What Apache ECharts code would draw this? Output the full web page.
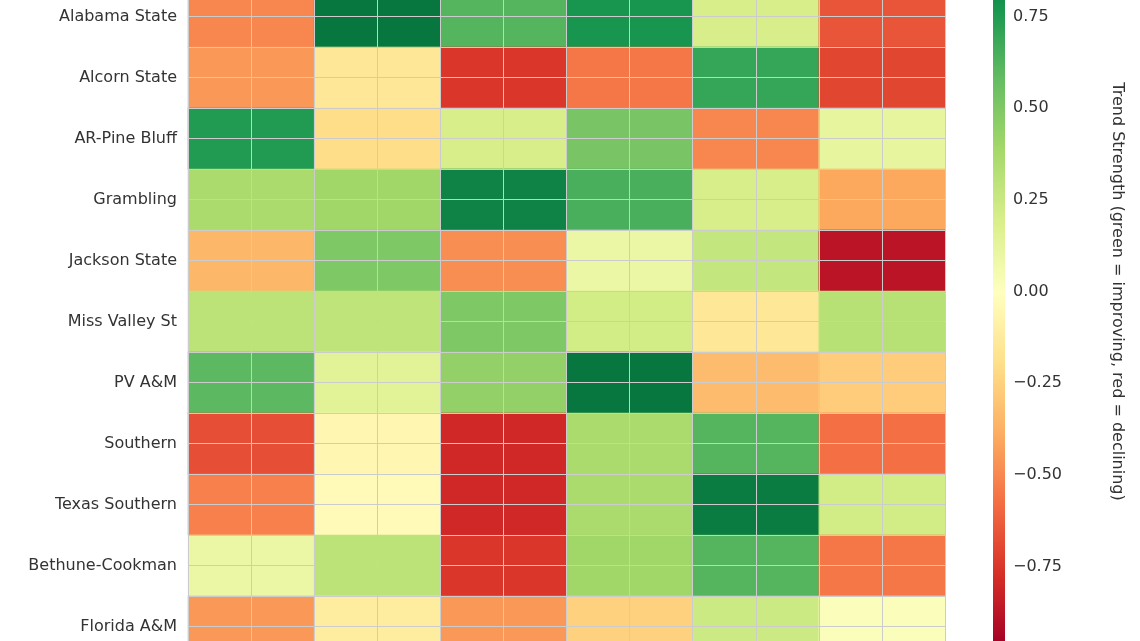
<!DOCTYPE html>
<html><head><meta charset="utf-8">
<script src="https://cdn.jsdelivr.net/npm/echarts@6/dist/echarts.min.js"></script>
<style>html,body{margin:0;padding:0;background:#fff;overflow:hidden;width:1140px;height:641px;position:relative}#c{position:absolute;left:0;top:-75px;width:1140px;height:800px}</style>
</head><body><div id="c"></div>
<script>
const schools = ["Alabama State","Alcorn State","AR-Pine Bluff","Grambling","Jackson State","Miss Valley St","PV A&M","Southern","Texas Southern","Bethune-Cookman","Florida A&M"];
const metrics = ["M1","M2","M3","M4","M5","M6"];
const trend = [
 [-0.5,0.9,0.62,0.78,0.2,-0.65],
 [-0.45,-0.15,-0.75,-0.55,0.7,-0.7],
 [0.75,-0.2,0.2,0.52,-0.5,0.12],
 [0.37,0.4,0.85,0.65,0.2,-0.4],
 [-0.35,0.5,-0.48,0.1,0.27,-0.88],
 [0.3,0.29,0.5,0.22,-0.15,0.32],
 [0.6,0.15,0.44,0.9,-0.33,-0.27],
 [-0.67,-0.05,-0.8,0.37,0.62,-0.57],
 [-0.52,-0.03,-0.8,0.37,0.88,0.22],
 [0.1,0.3,-0.75,0.4,0.62,-0.55],
 [-0.45,-0.12,-0.45,-0.25,0.24,0.02]
];
const cbTicks = [-0.75,-0.5,-0.25,0,0.25,0.5,0.75];
const data = [];
trend.forEach((r,i)=>r.forEach((v,j)=>data.push([j,i,v])));
const rdylgn = ['#a50026','#d73027','#f46d43','#fdae61','#fee08b','#ffffbf','#d9ef8b','#a6d96a','#66bd63','#1a9850','#006837'];
const font = 'DejaVu Sans';
const chart = echarts.init(document.getElementById('c'));
chart.setOption({
  animation:false,
  grid:[{left:188,width:757,top:61,height:671},{left:993,width:12,top:0,height:733}],
  visualMap:[{type:'continuous',min:-0.96,max:0.96,calculable:false,show:true,seriesIndex:0,
    left:993,top:15,itemWidth:12,itemHeight:704,padding:0,text:['',''],showLabel:false,
    inRange:{color:rdylgn},textStyle:{fontSize:0}}],
  xAxis:[
    {type:'category',data:metrics,gridIndex:0,axisLabel:{show:false},axisTick:{show:false},axisLine:{show:false},splitLine:{show:false}},
    {type:'value',gridIndex:0,min:0,max:6,interval:0.5,show:true,axisLabel:{show:false},axisTick:{show:false},axisLine:{show:false},z:10,splitLine:{show:true,lineStyle:{color:'#cccccc',width:1}}},
    {type:'value',gridIndex:1,show:false,min:0,max:1}
  ],
  yAxis:[
    {type:'category',data:schools,inverse:true,gridIndex:0,axisTick:{show:false},axisLine:{show:false},
      axisLabel:{fontFamily:font,fontSize:16,color:'#333',margin:11}},
    {type:'value',gridIndex:0,min:0,max:11,interval:0.5,axisLabel:{show:false},axisTick:{show:false},axisLine:{show:false},z:10,splitLine:{show:true,lineStyle:{color:'#cccccc',width:1}}},
    {type:'value',gridIndex:1,min:-1,max:1,interval:0.25,position:'right',
      axisLine:{show:false},axisTick:{show:true,length:5,lineStyle:{color:'#333'}},splitLine:{show:false},
      axisLabel:{fontFamily:font,fontSize:16,color:'#333',margin:8,
        formatter:v=>cbTicks.includes(v)?(v<0?'\u2212'+Math.abs(v).toFixed(2):v.toFixed(2)):''},
      name:'Trend Strength (green = improving, red = declining)',nameLocation:'middle',nameRotate:-90,nameGap:104,
      nameTextStyle:{fontFamily:font,fontSize:16,color:'#333'}}
  ],
  series:[{type:'heatmap',xAxisIndex:0,yAxisIndex:0,data:data,itemStyle:{borderWidth:0}}]
});
</script></body></html>
